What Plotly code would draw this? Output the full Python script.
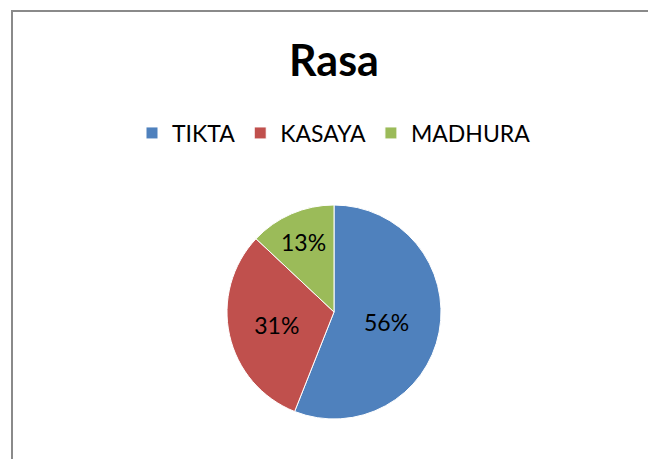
import plotly.graph_objects as go

labels = ["TIKTA", "KASAYA", "MADHURA"]
values = [56, 31, 13]
colors = ["#4F81BD", "#C0504D", "#9BBB59"]
title_text = "Rasa"

W, H = 648, 459
cx, cy, r = 334, 312, 107

fig = go.Figure(go.Pie(
    labels=labels,
    values=values,
    sort=False,
    direction="clockwise",
    rotation=0,
    marker=dict(colors=colors, line=dict(color="white", width=1)),
    texttemplate="%{value}%",
    textposition="inside",
    insidetextorientation="horizontal",
    textfont=dict(family="Lato", size=23, color="black"),
    domain=dict(x=[(cx - r) / W, (cx + r) / W], y=[(H - cy - r) / H, (H - cy + r) / H]),
    hoverinfo="label+percent",
))

fig.update_layout(
    width=W, height=H,
    margin=dict(l=0, r=0, t=0, b=0),
    paper_bgcolor="white",
    font=dict(family="Lato", color="black"),
    showlegend=True,
    legend=dict(orientation="h", x=cx / W, xanchor="center", y=1 - 133 / H, yanchor="middle",
                font=dict(family="Lato", size=23, color="black"), itemwidth=30,
                bgcolor="rgba(0,0,0,0)"),
    annotations=[dict(text="<b>" + title_text + "</b>", x=cx / W, y=1 - 60 / H, xref="paper", yref="paper",
                      xanchor="center", yanchor="middle", showarrow=False,
                      font=dict(family="Lato", size=43, color="black"))],
    shapes=[dict(type="rect", xref="paper", yref="paper", x0=12 / W, x1=1.02, y0=-0.02, y1=1 - 11 / H,
                 line=dict(color="#8a8a8a", width=2), fillcolor="rgba(0,0,0,0)")],
)

fig.write_html("out.html")
